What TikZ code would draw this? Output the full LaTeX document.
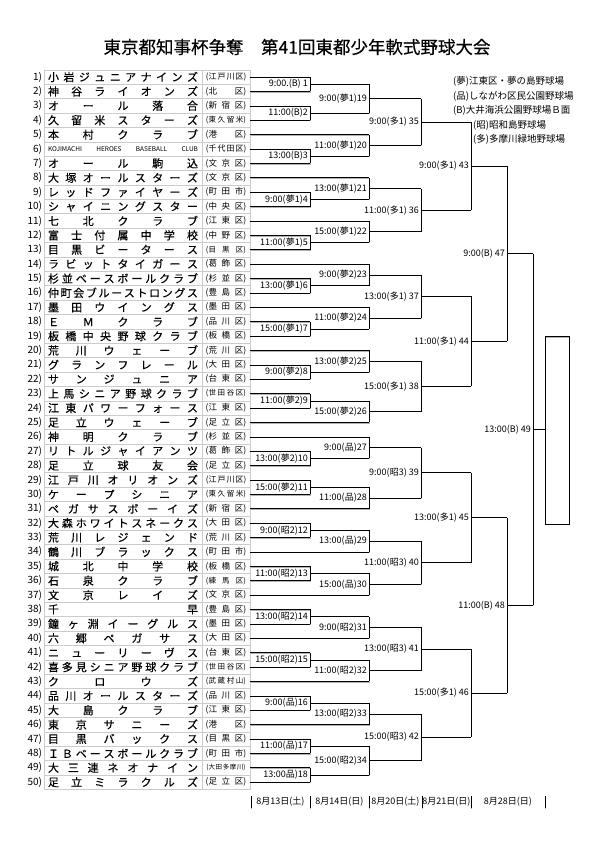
\documentclass[tikz,border=0pt]{standalone}
\usepackage{fontspec}
\setmainfont{Noto Sans CJK JP}
\newfontfamily\namefont{Noto Sans CJK JP}[FakeBold=0.35]
\usetikzlibrary{positioning, calc}

% spread the characters of a name evenly over a box
\def\spreadfirst#1{#1\spreadrest}
\def\spreadrest#1{\ifx\relax#1\else\hfill#1\expandafter\spreadrest\fi}
\newcommand\spread[2]{\makebox[#1][s]{\expandafter\spreadfirst#2\relax}}
\newcommand\kojima{{\rmfamily\fontsize{6.5}{7}\selectfont KOJIMACHI\hfill HEROES\hfill BASEBALL\hfill CLUB}}

\tikzset{
  cell/.style    = {draw=gray!40, line width=0.5pt, inner sep=0pt, minimum height=14.39pt},
  namebox/.style = {cell, minimum width=158pt, font=\namefont\fontsize{11}{11}\selectfont},
  distbox/.style = {cell, minimum width=48pt},
  numlbl/.style  = {inner sep=0pt, font=\fontsize{10}{10}\selectfont},
  mlbl/.style    = {inner sep=0pt, anchor=east, font=\fontsize{9}{9}\selectfont},
  legend/.style  = {inner sep=0pt, anchor=west, font=\fontsize{9.5}{10}\selectfont},
  datelbl/.style = {inner sep=0pt, font=\fontsize{9}{9}\selectfont},
  sh/.style      = {draw=black, line width=0.5pt,
                    preaction={draw=gray!60, line width=1.3pt,
                               transform canvas={shift={(0.6pt,-0.6pt)}}}},
  pl/.style      = {draw=black, line width=0.5pt},
}

\begin{document}
\begin{tikzpicture}[x=1pt, y=-1pt]
  \useasboundingbox (0,0) rectangle (595,841);
  \node[font=\namefont\fontsize{17.5}{18}\selectfont] (title) at (297,47)
    {東京都知事杯争奪　第41回東都少年軟式野球大会};

  % team list
  \foreach \i/\nm/\ds/\fs in {
    1/小岩ジュニアナインズ/江戸川区/8,
    2/神谷ライオンズ/北区/8.5,
    3/オール落合/新宿区/8.5,
    4/久留米スターズ/東久留米/7.5,
    5/本村クラブ/港区/8.5,
    6/\kojima/千代田区/8,
    7/オール駒込/文京区/8.5,
    8/大塚オールスターズ/文京区/8.5,
    9/レッドファイヤーズ/町田市/8.5,
    10/シャイニングスター/中央区/8.5,
    11/七北クラブ/江東区/8.5,
    12/富士付属中学校/中野区/8.5,
    13/目黒ビータース/目黒区/7.5,
    14/ラビットタイガース/葛飾区/8.5,
    15/杉並ベースボールクラブ/杉並区/8.5,
    16/仲町会ブルーストロングス/豊島区/8.5,
    17/墨田ウイングス/墨田区/8.5,
    18/ＥＭクラブ/品川区/8.5,
    19/板橋中央野球クラブ/板橋区/8.5,
    20/荒川ウェーブ/荒川区/8.5,
    21/グランフレール/大田区/8.5,
    22/サンジュニア/台東区/8.5,
    23/上馬シニア野球クラブ/世田谷区/7.5,
    24/江東パワーフォース/江東区/8.5,
    25/足立ウェーブ/足立区/8.5,
    26/神明クラブ/杉並区/8.5,
    27/リトルジャイアンツ/葛飾区/8.5,
    28/足立球友会/足立区/8.5,
    29/江戸川オリオンズ/江戸川区/8,
    30/ケープシニア/東久留米/7.5,
    31/ペガサスボーイズ/新宿区/8.5,
    32/大森ホワイトスネークス/大田区/8.5,
    33/荒川レジェンド/荒川区/8.5,
    34/鶴川ブラックス/町田市/8.5,
    35/城北中学校/板橋区/8.5,
    36/石泉クラブ/練馬区/7.5,
    37/文京レイズ/文京区/8.5,
    38/千早/豊島区/8.5,
    39/鐘ヶ淵イーグルス/墨田区/8.5,
    40/六郷ペガサス/大田区/8.5,
    41/ニューリーヴス/台東区/8.5,
    42/喜多見シニア野球クラブ/世田谷区/7.5,
    43/クロウズ/武蔵村山/7.5,
    44/品川オールスターズ/品川区/8.5,
    45/大島クラブ/江東区/8.5,
    46/東京サニーズ/港区/8.5,
    47/目黒バックス/目黒区/8.5,
    48/ＩＢベースボールクラブ/町田市/8.5,
    49/大三連ネオナイン/大田多摩川/6.5,
    50/足立ミラクルズ/足立区/8.5}{
    \pgfmathsetmacro\y{77+(\i-1)*14.39}
    \node[namebox] (n\i) at (123,\y) {\spread{150pt}{\nm}};
    \node[distbox] (t\i) at (226,\y) {\fontsize{\fs}{\fs}\selectfont(\spread{35pt}{\ds})};
    \node[numlbl, left=1.5pt of n\i] (k\i) {\i)};
    \coordinate (e\i) at (t\i.east);
  }

  % bracket columns
  \coordinate (c1) at (310,0);
  \coordinate (c2) at (369,0);
  \coordinate (c3) at (421,0);
  \coordinate (c4) at (471,0);
  \coordinate (c5) at (507,0);
  \coordinate (c6) at (533,0);

  \foreach \m/\pa/\pb/\cx/\sa/\sb/\sv/\ml in {
    1/e1/e2/c1/sh/sh/sh/{9:00.(B) 1},
    2/e3/e4/c1/sh/sh/sh/{11:00(B)2},
    3/e6/e7/c1/sh/sh/sh/{13:00(B)3},
    4/e9/e10/c1/sh/sh/sh/{9:00(夢1)4},
    5/e12/e13/c1/sh/sh/sh/{11:00(夢1)5},
    6/e15/e16/c1/sh/sh/sh/{13:00(夢1)6},
    7/e18/e19/c1/sh/sh/sh/{15:00(夢1)7},
    8/e21/e22/c1/sh/sh/sh/{9:00(夢2)8},
    9/e23/e24/c1/sh/sh/sh/{11:00(夢2)9},
    10/e27/e28/c1/sh/sh/sh/{13:00(夢2)10},
    11/e29/e30/c1/sh/sh/sh/{15:00(夢2)11},
    12/e32/e33/c1/sh/sh/sh/{9:00(昭2)12},
    13/e35/e36/c1/sh/sh/sh/{11:00(昭2)13},
    14/e38/e39/c1/sh/sh/sh/{13:00(昭2)14},
    15/e41/e42/c1/sh/sh/sh/{15:00(昭2)15},
    16/e44/e45/c1/sh/sh/sh/{9:00(品)16},
    17/e47/e48/c1/sh/sh/sh/{11:00(品)17},
    18/e49/e50/c1/sh/sh/sh/{13:00品)18},
    19/m1/m2/c2/pl/pl/sh/{9:00(夢1)19},
    20/e5/m3/c2/sh/pl/sh/{11:00(夢1)20},
    21/e8/m4/c2/sh/pl/sh/{13:00(夢1)21},
    22/e11/m5/c2/sh/pl/sh/{15:00(夢1)22},
    23/e14/m6/c2/sh/pl/sh/{9:00(夢2)23},
    24/e17/m7/c2/sh/pl/sh/{11:00(夢2)24},
    25/e20/m8/c2/sh/pl/sh/{13:00(夢2)25},
    26/m9/e25/c2/pl/sh/sh/{15:00(夢2)26},
    27/e26/m10/c2/sh/pl/sh/{9:00(品)27},
    28/m11/e31/c2/pl/sh/sh/{11:00(品)28},
    29/m12/e34/c2/pl/sh/sh/{13:00(品)29},
    30/m13/e37/c2/pl/sh/sh/{15:00(品)30},
    31/m14/e40/c2/pl/sh/sh/{9:00(昭2)31},
    32/m15/e43/c2/pl/sh/sh/{11:00(昭2)32},
    33/m16/e46/c2/pl/sh/sh/{13:00(昭2)33},
    34/m17/m18/c2/pl/pl/sh/{15:00(昭2)34},
    35/m19/m20/c3/pl/pl/sh/{9:00(多1) 35},
    36/m21/m22/c3/pl/pl/sh/{11:00(多1) 36},
    37/m23/m24/c3/pl/pl/sh/{13:00(多1) 37},
    38/m25/m26/c3/pl/pl/sh/{15:00(多1) 38},
    39/m27/m28/c3/pl/pl/sh/{9:00(昭3) 39},
    40/m29/m30/c3/pl/pl/sh/{11:00(昭3) 40},
    41/m31/m32/c3/pl/pl/sh/{13:00(昭3) 41},
    42/m33/m34/c3/pl/pl/sh/{15:00(昭3) 42},
    43/m35/m36/c4/pl/pl/pl/{9:00(多1) 43},
    44/m37/m38/c4/pl/pl/pl/{11:00(多1) 44},
    45/m39/m40/c4/pl/pl/pl/{13:00(多1) 45},
    46/m41/m42/c4/pl/pl/pl/{15:00(多1) 46},
    47/m43/m44/c5/pl/pl/pl/{9:00(B) 47},
    48/m45/m46/c5/pl/pl/pl/{11:00(B) 48},
    49/m47/m48/c6/pl/pl/sh/{13:00(B) 49}}{
    \coordinate (m\m) at ($(\cx |- \pa)!.5!(\cx |- \pb)$);
    \draw[\sa] (\pa) -- (\pa -| \cx);
    \draw[\sb] (\pb) -- (\pb -| \cx);
    \draw[\sv] (\pa -| \cx) -- (\pb -| \cx);
    \node[mlbl] (l\m) at ([xshift=-2pt]m\m) {\ml};
  }

  % winner box
  \node[sh, inner sep=0pt, minimum width=24pt, minimum height=187.3pt] (win) at (557,430.35) {};
  \draw[pl] (m49) -- (m49 -| win.west);

  % grounds
  \node[legend] (lg1) at (453,81)  {(夢)江東区・夢の島野球場};
  \node[legend] (lg2) at (453,96)  {(品)しながわ区民公園野球場};
  \node[legend] (lg3) at (453,110) {(B)大井海浜公園野球場Ｂ面};
  \node[legend] (lg4) at (473,125) {(昭)昭和島野球場};
  \node[legend] (lg5) at (473,139) {(多)多摩川緑地野球場};

  % dates
  \foreach \x in {251,310,369,422,471,545}
    \draw[sh] (\x,796) -- (\x,808);
  \node[datelbl] (d1) at (280.5,802) {8月13日(土)};
  \node[datelbl] (d2) at (339.5,802) {8月14日(日)};
  \node[datelbl] (d3) at (395.5,802) {8月20日(土)};
  \node[datelbl] (d4) at (446.5,802) {8月21日(日)};
  \node[datelbl] (d5) at (508,802)   {8月28日(日)};
\end{tikzpicture}
\end{document}
